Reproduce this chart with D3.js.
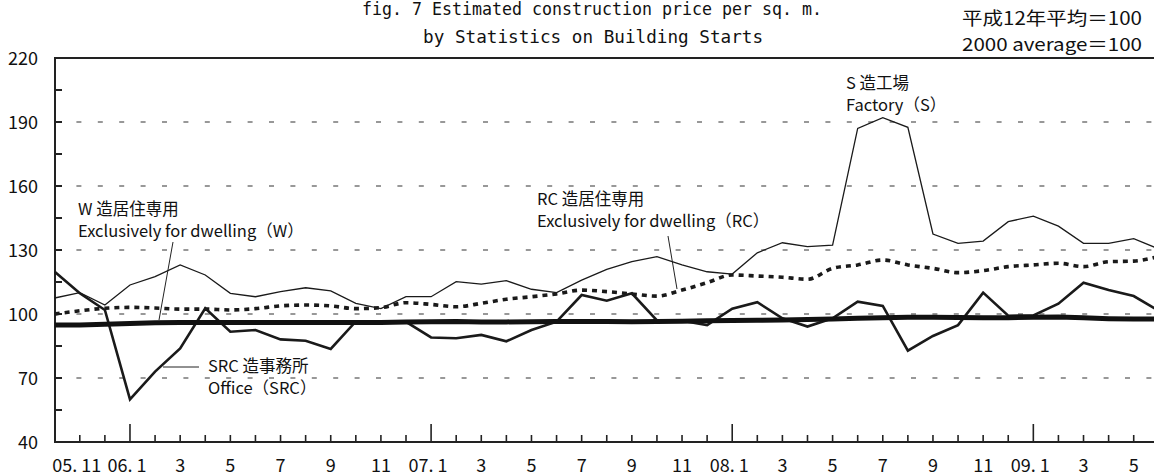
<!DOCTYPE html>
<html>
<head>
<meta charset="utf-8">
<script src="https://d3js.org/d3.v7.min.js"></script>
<style>
  body { margin: 0; background: #fff; }
  text { font-family: "Noto Sans CJK JP", "DejaVu Sans", sans-serif; fill: #111; }
  .mono { font-family: "DejaVu Sans Mono", "Noto Sans CJK JP", monospace; }
</style>
</head>
<body>
<div id="chart"></div>
<script>
// months from 05.10 to 09.6
const months = [
  "05.10","05.11","05.12",
  "06.1","06.2","06.3","06.4","06.5","06.6","06.7","06.8","06.9","06.10","06.11","06.12",
  "07.1","07.2","07.3","07.4","07.5","07.6","07.7","07.8","07.9","07.10","07.11","07.12",
  "08.1","08.2","08.3","08.4","08.5","08.6","08.7","08.8","08.9","08.10","08.11","08.12",
  "09.1","09.2","09.3","09.4","09.5","09.6"
];

// S造工場 Factory (S)
const factory = [
  107.5, 110, 104.2,
  113.6, 117.5, 123, 118.3, 109.7, 108.1, 110.5, 112.3, 110.8, 105, 102.5, 108.1,
  108.1, 115.2, 114, 115.6, 111.6, 110, 115.9, 120.9, 124.5, 126.9, 123, 119.8,
  118.7, 128.7, 133.4, 131.6, 132.3, 187, 192, 187.5, 137.5, 133.1, 134.2, 143.3,
  145.9, 141.2, 133.1, 133.1, 135.3, 130.5
];

// W造居住専用 Exclusively for dwelling (W)
const wDwelling = [
  94.8, 94.8, 95.2,
  95.6, 95.9, 96, 96, 96, 96, 96, 96, 96, 96, 96, 96.2,
  96.4, 96.5, 96.3, 96.3, 96.4, 96.5, 96.5, 96.5, 96.4, 96.5, 96.6, 96.8,
  97, 97.1, 97.2, 97.4, 97.7, 98, 98.3, 98.5, 98.5, 98.4, 98.3, 98.3,
  98.5, 98.6, 98.2, 97.8, 97.6, 97.6
];

// RC造居住専用 Exclusively for dwelling (RC)
const rcDwelling = [
  100, 101.5, 102.7,
  103.1, 102.8, 102.3, 102.3, 101.9, 102.5, 103.8, 104.2, 103.8, 102.5, 103, 105.3,
  104.5, 103.4, 105, 106.9, 108.1, 109.4, 111.2, 110.5, 109.4, 108.4, 111.2, 114.7,
  118.3, 117.8, 117.2, 116.3, 121.4, 123, 125.3, 123, 121.4, 119.4, 120.3, 122.2,
  123, 123.8, 122.2, 124.5, 124.8, 127
];

// SRC造事務所 Office (SRC)
const srcOffice = [
  119.8, 109.7, 101.9,
  60, 73, 83.9, 102.7, 91.7, 92.5, 88.1, 87.5, 83.6, 96.5, 96.3, 96.3,
  89, 88.6, 90.2, 87.2, 92.5, 96.4, 108.9, 106.2, 109.7, 97, 96.8, 94.8,
  102.5, 105.5, 98, 94.1, 98, 105.8, 103.8, 82.8, 89.7, 94.8, 110, 99.2,
  99.3, 104.8, 114.7, 111.2, 108.4, 101.5
];

const yGrid = [70, 100, 130, 160, 190];
const yLabels = [40, 70, 100, 130, 160, 190, 220];
const yMinor = [55, 85, 115, 145, 175, 205];
// x labels every two months, year markers on January
const xLabels = {
  "05.11": "05. 11", "06.1": "06. 1", "06.3": "3", "06.5": "5", "06.7": "7", "06.9": "9", "06.11": "11",
  "07.1": "07. 1", "07.3": "3", "07.5": "5", "07.7": "7", "07.9": "9", "07.11": "11",
  "08.1": "08. 1", "08.3": "3", "08.5": "5", "08.7": "7", "08.9": "9", "08.11": "11",
  "09.1": "09. 1", "09.3": "3", "09.5": "5"
};

const W = 1154, H = 476;
const plotLeft = 55, plotTop = 58, plotBottom = 442;

const svg = d3.select("#chart").append("svg")
  .attr("width", W).attr("height", H);

const x = d3.scalePoint().domain(months).range([54.7, 1158.8]);
const y = d3.scaleLinear().domain([40, 220]).range([plotBottom, plotTop]);

// titles
svg.append("text").attr("class", "mono")
  .attr("x", 362).attr("y", 15).attr("font-size", 17)
  .attr("textLength", 460).attr("lengthAdjust", "spacingAndGlyphs")
  .text("fig. 7 Estimated construction price per sq. m.");
svg.append("text").attr("class", "mono")
  .attr("x", 423).attr("y", 43).attr("font-size", 17)
  .attr("textLength", 340).attr("lengthAdjust", "spacingAndGlyphs")
  .text("by Statistics on Building Starts");

svg.append("text")
  .attr("x", 962).attr("y", 25).attr("font-size", 18)
  .attr("textLength", 180).attr("lengthAdjust", "spacingAndGlyphs")
  .text("平成12年平均＝100");
svg.append("text")
  .attr("x", 962).attr("y", 51).attr("font-size", 18)
  .attr("textLength", 180).attr("lengthAdjust", "spacingAndGlyphs")
  .text("2000 average＝100");

// grid
svg.append("g").selectAll("line").data(yGrid).join("line")
  .attr("x1", plotLeft).attr("x2", W)
  .attr("y1", d => y(d)).attr("y2", d => y(d))
  .attr("stroke", "#777").attr("stroke-width", 1.3)
  .attr("stroke-dasharray", "5,16.4");

// y ticks
svg.append("g").selectAll("line").data(yMinor.concat(yGrid)).join("line")
  .attr("x1", plotLeft).attr("x2", plotLeft + 7)
  .attr("y1", d => y(d)).attr("y2", d => y(d))
  .attr("stroke", "#222").attr("stroke-width", 2);

svg.append("g").selectAll("text").data(yLabels).join("text")
  .attr("x", 38).attr("y", d => y(d) + 6.5)
  .attr("text-anchor", "end").attr("font-size", 18)
  .text(d => d);

// x ticks
svg.append("g").selectAll("line").data(months.slice(1)).join("line")
  .attr("x1", d => x(d)).attr("x2", d => x(d))
  .attr("y1", plotBottom)
  .attr("y2", d => d.endsWith(".1") ? plotBottom - 18 : plotBottom - 7)
  .attr("stroke", "#222").attr("stroke-width", 1.6);

svg.append("g").selectAll("text").data(Object.keys(xLabels)).join("text")
  .attr("x", d => x(d) - (xLabels[d].length > 2 ? 3 : 0))
  .attr("y", 472)
  .attr("text-anchor", "middle").attr("font-size", 18)
  .text(d => xLabels[d]);

// frame
svg.append("line").attr("x1", plotLeft).attr("x2", W).attr("y1", plotTop).attr("y2", plotTop)
  .attr("stroke", "#222").attr("stroke-width", 2);
svg.append("line").attr("x1", plotLeft).attr("x2", W).attr("y1", plotBottom).attr("y2", plotBottom)
  .attr("stroke", "#222").attr("stroke-width", 2);
svg.append("line").attr("x1", plotLeft).attr("x2", plotLeft).attr("y1", plotTop - 1).attr("y2", plotBottom + 1)
  .attr("stroke", "#222").attr("stroke-width", 2);

// series
const line = d3.line().x((d, i) => x(months[i])).y(d => y(d));
const smooth = d3.line().x((d, i) => x(months[i])).y(d => y(d)).curve(d3.curveMonotoneX);

svg.append("path").datum(factory).attr("d", line)
  .attr("fill", "none").attr("stroke", "#1a1a1a").attr("stroke-width", 1.3);
svg.append("path").datum(rcDwelling).attr("d", smooth)
  .attr("fill", "none").attr("stroke", "#1a1a1a").attr("stroke-width", 3.6)
  .attr("stroke-dasharray", "5,5");
svg.append("path").datum(srcOffice).attr("d", line)
  .attr("fill", "none").attr("stroke", "#1a1a1a").attr("stroke-width", 2.6)
  .attr("stroke-linejoin", "miter");
svg.append("path").datum(wDwelling).attr("d", line)
  .attr("fill", "none").attr("stroke", "#111").attr("stroke-width", 5);

// annotations
const note = (tx, ty, l1, l2) => {
  svg.append("text").attr("x", tx).attr("y", ty).attr("font-size", 16.5).text(l1);
  svg.append("text").attr("x", tx).attr("y", ty + 22).attr("font-size", 16.5).text(l2);
};
note(846, 89, "S 造工場", "Factory（S）");
note(78, 215, "W 造居住専用", "Exclusively for dwelling（W）");
note(537, 205, "RC 造居住専用", "Exclusively for dwelling（RC）");
note(208, 372, "SRC 造事務所", "Office（SRC）");

const leader = (x1, y1, x2, y2) => svg.append("line")
  .attr("x1", x1).attr("y1", y1).attr("x2", x2).attr("y2", y2)
  .attr("stroke", "#222").attr("stroke-width", 1);
leader(173, 242, 159, 320);
leader(668, 236, 677, 289);
leader(163, 367, 199, 367);
</script>
</body>
</html>
